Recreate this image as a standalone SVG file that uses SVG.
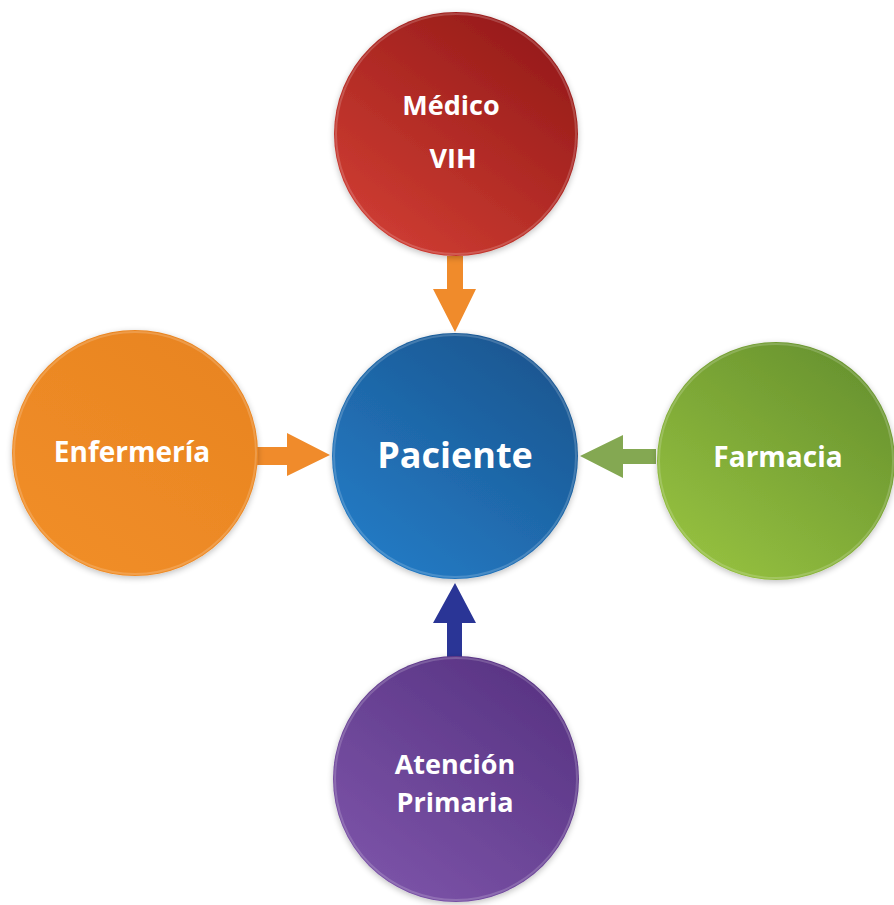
<svg xmlns="http://www.w3.org/2000/svg" width="894" height="905" viewBox="0 0 894 905">
  <defs>
    <linearGradient id="gRed" x1="0.8" y1="0.1" x2="0.2" y2="0.9">
      <stop offset="0" stop-color="#981c1a"/>
      <stop offset="1" stop-color="#cc3b31"/>
    </linearGradient>
    <linearGradient id="gBlue" x1="0.8" y1="0.1" x2="0.2" y2="0.9">
      <stop offset="0" stop-color="#1a5893"/>
      <stop offset="1" stop-color="#2479c2"/>
    </linearGradient>
    <linearGradient id="gOrange" x1="0.8" y1="0.1" x2="0.2" y2="0.9">
      <stop offset="0" stop-color="#e98522"/>
      <stop offset="1" stop-color="#f08d27"/>
    </linearGradient>
    <linearGradient id="gGreen" x1="0.8" y1="0.1" x2="0.2" y2="0.9">
      <stop offset="0" stop-color="#6a952f"/>
      <stop offset="1" stop-color="#93be3f"/>
    </linearGradient>
    <linearGradient id="gPurple" x1="0.8" y1="0.1" x2="0.2" y2="0.9">
      <stop offset="0" stop-color="#5a3585"/>
      <stop offset="1" stop-color="#7a52a6"/>
    </linearGradient>
    <filter id="soft" x="-10%" y="-10%" width="120%" height="120%">
      <feGaussianBlur in="SourceAlpha" stdDeviation="3"/>
      <feOffset dx="0" dy="2" result="b"/>
      <feComponentTransfer><feFuncA type="linear" slope="0.25"/></feComponentTransfer>
      <feMerge><feMergeNode/><feMergeNode in="SourceGraphic"/></feMerge>
    </filter>
  </defs>
  <style>
    .disc { filter: url(#soft); }
    .rim { fill: none; stroke: #ffffff; stroke-opacity: 0.18; stroke-width: 2; }
    .label { font-family: "Open Sans", "Liberation Sans", sans-serif; font-weight: bold; fill: #ffffff; text-anchor: middle; }
  </style>

  <rect width="894" height="905" fill="#ffffff"/>

  <!-- connectors: block arrows pointing at the centre -->
  <g id="connectors">
    <polygon points="447,256 463,256 463,289 476,289 455,332 433,289 447,289" fill="#f08b2b"/>
    <polygon points="257,447 287,447 287,433 330,455 287,476 287,465 257,465" fill="#f08b2b"/>
    <polygon points="656,449 623,449 623,435 580,456 623,478 623,464 656,464" fill="#84a852"/>
    <polygon points="447,657 447,623 433,623 455,583 476,623 462,623 462,657" fill="#2a3596"/>
  </g>

  <g id="medico">
    <circle class="disc" cx="456" cy="134" r="122" fill="url(#gRed)"/>
    <circle class="rim" cx="456" cy="134" r="120"/>
    <text class="label" x="451" y="115" font-size="27">Médico</text>
    <text class="label" x="453" y="168" font-size="27">VIH</text>
  </g>

  <g id="paciente">
    <circle class="disc" cx="455" cy="456" r="123" fill="url(#gBlue)"/>
    <circle class="rim" cx="455" cy="456" r="121"/>
    <text class="label" x="455" y="468" font-size="36">Paciente</text>
  </g>

  <g id="enfermeria">
    <circle class="disc" cx="135" cy="453" r="123" fill="url(#gOrange)"/>
    <circle class="rim" cx="135" cy="453" r="121"/>
    <text class="label" x="132" y="462" font-size="28">Enfermería</text>
  </g>

  <g id="farmacia">
    <circle class="disc" cx="776" cy="461" r="119" fill="url(#gGreen)"/>
    <circle class="rim" cx="776" cy="461" r="117"/>
    <text class="label" x="778" y="467" font-size="28">Farmacia</text>
  </g>

  <g id="atencion-primaria">
    <circle class="disc" cx="456" cy="779" r="123" fill="url(#gPurple)"/>
    <circle class="rim" cx="456" cy="779" r="121"/>
    <text class="label" x="455" y="774" font-size="27">Atención</text>
    <text class="label" x="455" y="812" font-size="27">Primaria</text>
  </g>
</svg>
